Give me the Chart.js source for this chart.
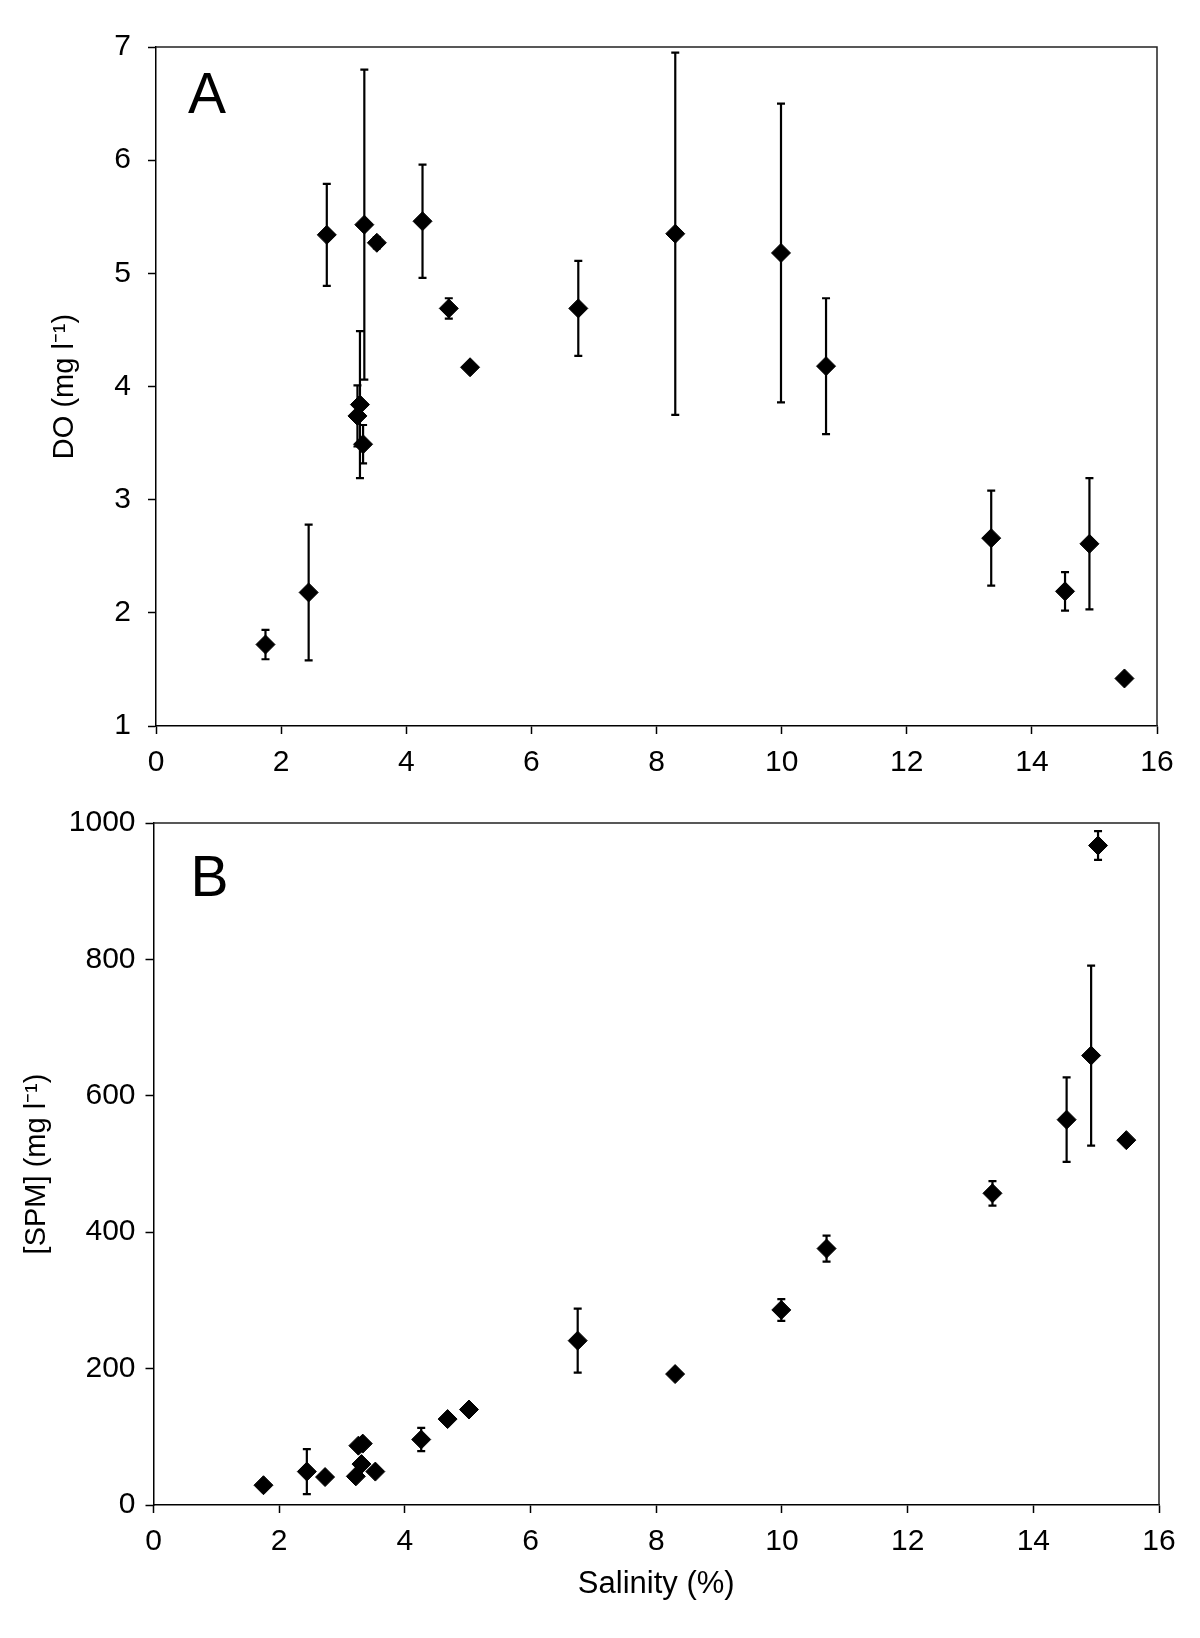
<!DOCTYPE html>
<html>
<head>
<meta charset="utf-8">
<script src="https://cdn.jsdelivr.net/npm/chart.js@4.4.1/dist/chart.umd.min.js"></script>
<style>
  html, body { margin: 0; padding: 0; background: #fff; }
  .panel { position: absolute; left: 0; width: 1200px; }
  #panelA { top: 0; height: 790px; }
  #panelB { top: 790px; height: 848px; }
</style>
</head>
<body>
<div class="panel" id="panelA"><canvas id="chartA" width="1200" height="790"></canvas></div>
<div class="panel" id="panelB"><canvas id="chartB" width="1200" height="848"></canvas></div>
<script>
// salinity of each station (%), shared by both panels
const salinity = [1.75, 2.44, 2.73, 3.22, 3.26, 3.31, 3.33, 3.53, 4.26, 4.68, 5.02, 6.75, 8.30, 9.99, 10.71, 13.35, 14.53, 14.92, 15.03, 15.48];

// panel A - dissolved oxygen (mg l-1), mean and +/- error
const doMean = [1.72, 2.18, 5.34, 3.74, 3.84, 3.49, 5.43, 5.27, 5.46, 4.69, 4.17, 4.69, 5.35, 5.18, 4.18, 2.66, 2.19, 2.61, null, 1.42];
const doErr  = [0.13, 0.60, 0.45, 0.27, 0.65, 0.17, 1.37, 0.05, 0.50, 0.09, 0, 0.42, 1.60, 1.32, 0.60, 0.42, 0.17, 0.58, null, 0];

// panel B - suspended particulate matter (mg l-1), mean and +/- error
const spmMean = [29, 49, 41, 42, 87, 60, 90, 49, 96, 126, 140, 241, 192, 286, 376, 457, 565, 659, 967, 535];
const spmErr  = [0, 33, 0, 0, 0, 0, 0, 0, 17, 0, 0, 47, 0, 16, 19, 18, 62, 132, 21, 0];

const xTicks = [0, 2, 4, 6, 8, 10, 12, 14, 16];
const doTicks = [1, 2, 3, 4, 5, 6, 7];
const spmTicks = [0, 200, 400, 600, 800, 1000];

const FONT = '"Liberation Sans", Arial, Helvetica, sans-serif';

function buildPoints(ys, errs) {
  const pts = [];
  salinity.forEach((x, i) => {
    if (ys[i] === null) return;
    pts.push({ x: x, y: ys[i], err: errs[i] || 0 });
  });
  return pts;
}

// error bars drawn through the scales
const errorBars = {
  id: 'errorBars',
  beforeDatasetsDraw(chart) {
    const ctx = chart.ctx;
    const xs = chart.scales.x, ys = chart.scales.y;
    ctx.save();
    ctx.strokeStyle = '#000';
    ctx.lineWidth = 2.2;
    chart.data.datasets[0].data.forEach(p => {
      if (!p.err) return;
      const px = xs.getPixelForValue(p.x);
      const top = ys.getPixelForValue(p.y + p.err);
      const bot = ys.getPixelForValue(p.y - p.err);
      ctx.beginPath();
      ctx.moveTo(px, top); ctx.lineTo(px, bot);
      ctx.moveTo(px - 4, top); ctx.lineTo(px + 4, top);
      ctx.moveTo(px - 4, bot); ctx.lineTo(px + 4, bot);
      ctx.stroke();
    });
    ctx.restore();
  }
};

// plot frame (top + right) and the panel letter
const frameAndLabel = {
  id: 'frameAndLabel',
  afterDraw(chart, args, opts) {
    const { ctx, chartArea: a } = chart;
    ctx.save();
    ctx.strokeStyle = '#222';
    ctx.lineWidth = 1.5;
    ctx.beginPath();
    ctx.moveTo(a.left, a.top); ctx.lineTo(a.right, a.top); ctx.lineTo(a.right, a.bottom);
    ctx.stroke();
    ctx.fillStyle = '#000';
    ctx.font = '57px ' + FONT;
    ctx.textBaseline = 'alphabetic';
    ctx.fillText(opts.text, a.left + opts.dx, a.top + opts.dy);
    ctx.restore();
  }
};

function makeChart(canvasId, cfg) {
  return new Chart(document.getElementById(canvasId), {
    type: 'scatter',
    data: {
      datasets: [{
        data: buildPoints(cfg.mean, cfg.err),
        pointStyle: 'rectRot',
        pointRadius: 9.5,
        backgroundColor: '#000',
        borderColor: '#000',
        borderWidth: 1
      }]
    },
    options: {
      responsive: false,
      animation: false,
      layout: { padding: { top: cfg.padTop, right: cfg.padRight, left: 0, bottom: 0 } },
      plugins: {
        legend: { display: false },
        tooltip: { enabled: false },
        frameAndLabel: { text: cfg.letter, dx: cfg.letterDx, dy: cfg.letterDy }
      },
      scales: {
        x: {
          type: 'linear', min: 0, max: 16,
          afterBuildTicks: s => { s.ticks = xTicks.map(v => ({ value: v })); },
          afterFit: s => { s.height = cfg.xHeight; },
          ticks: { color: '#000', font: { family: FONT, size: 30 }, padding: 11, maxRotation: 0,
                   callback: v => String(v) },
          grid: { drawOnChartArea: false, drawTicks: true, tickLength: 8, tickColor: '#000', tickWidth: 1.5 },
          border: { color: '#000', width: 1.5 },
          title: {
            display: !!cfg.xTitle, text: cfg.xTitle || '', color: '#000',
            font: { family: FONT, size: 31 }, padding: { top: 0, bottom: 35 }
          }
        },
        y: {
          type: 'linear', min: cfg.yMin, max: cfg.yMax,
          afterBuildTicks: s => { s.ticks = cfg.yTicks.map(v => ({ value: v })); },
          afterFit: s => { s.width = cfg.yWidth; },
          ticks: { color: '#000', font: { family: FONT, size: 30 }, padding: cfg.yTickPad,
                   callback: v => String(v) },
          grid: { drawOnChartArea: false, drawTicks: true, tickLength: 8, tickColor: '#000', tickWidth: 1.5 },
          border: { color: '#000', width: 1.5 },
          title: {
            display: true, text: cfg.yTitle, color: '#000',
            font: { family: FONT, size: 29 }, padding: { top: cfg.yTitlePad, bottom: 0 }
          }
        }
      }
    },
    plugins: [errorBars, frameAndLabel]
  });
}

makeChart('chartA', {
  mean: doMean, err: doErr, yMin: 1, yMax: 7, yTicks: doTicks,
  yTitle: 'DO (mg l\u207B\u00B9)', yTitlePad: 48, yTickPad: 17,
  letter: 'A', letterDx: 32, letterDy: 66,
  padTop: 47, padRight: 43, yWidth: 156, xHeight: 64
});

makeChart('chartB', {
  mean: spmMean, err: spmErr, yMin: 0, yMax: 1000, yTicks: spmTicks,
  yTitle: '[SPM] (mg l\u207B\u00B9)', yTitlePad: 20, yTickPad: 10,
  xTitle: 'Salinity (%)',
  letter: 'B', letterDx: 37, letterDy: 73,
  padTop: 33, padRight: 41, yWidth: 153.5, xHeight: 133
});
</script>
</body>
</html>
